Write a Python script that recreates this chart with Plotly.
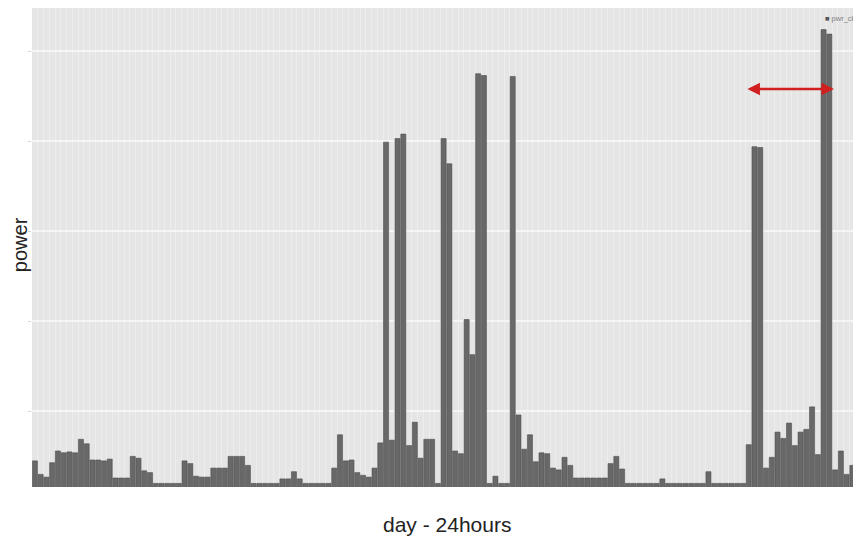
import plotly.graph_objects as go

# bar heights (power), one per hour slot
power = [45, 30, 27, 43, 56, 54, 55, 54, 69, 64,
         46, 46, 45, 47, 26, 26, 26, 50, 48, 34,
         32, 20, 20, 20, 20, 20, 45, 42, 28, 27,
         27, 37, 37, 37, 50, 50, 50, 40, 20, 20,
         20, 20, 20, 25, 25, 33, 25, 20, 20, 20,
         20, 20, 37, 74, 45, 46, 32, 29, 27, 37,
         65, 399, 68, 403, 408, 62, 88, 48, 69, 69,
         20, 403, 375, 56, 53, 202, 163, 475, 473, 20,
         28, 20, 20, 472, 96, 58, 74, 44, 54, 53,
         37, 35, 49, 40, 26, 26, 26, 26, 26, 26,
         42, 50, 36, 20, 20, 20, 20, 20, 20, 25,
         20, 20, 20, 20, 20, 20, 20, 33, 20, 20,
         20, 20, 20, 20, 63, 394, 393, 37, 49, 77,
         70, 87, 62, 77, 80, 105, 52, 524, 519, 35,
         56, 30, 40, 49]
slots = list(range(len(power)))
grid_vals = [100, 200, 300, 400, 500]
series_name = "pwr_ckt"

fig = go.Figure()
fig.add_trace(go.Bar(
    x=slots, y=power, name=series_name,
    marker=dict(color="#686868", line=dict(color="#4f4f4f", width=0.6)),
    showlegend=False,
))

fig.update_layout(
    width=853, height=530,
    margin=dict(l=24, r=0, t=0, b=51),
    paper_bgcolor="white",
    plot_bgcolor="#e5e5e5",
    bargap=0.12,
    font=dict(family="Liberation Sans, Arial, sans-serif", color="#222222"),
    xaxis=dict(
        range=[-0.5, len(power) - 0.5],
        showticklabels=False, ticks="",
        showgrid=True, tick0=0.5, dtick=1,
        gridcolor="#ededed", gridwidth=1,
        zeroline=False, showline=False,
    ),
    yaxis=dict(
        range=[16, 548],
        tickvals=grid_vals, showticklabels=False,
        ticks="outside", ticklen=3, tickcolor="#d6d6d6",
        showgrid=True, gridcolor="#f5f5f5", gridwidth=1.5,
        zeroline=False, showline=False,
    ),
    annotations=[
        dict(text="power", xref="paper", yref="paper", x=-0.0145, y=0.507,
             xanchor="center", yanchor="middle", textangle=-90,
             showarrow=False, font=dict(size=20, color="#222222")),
        dict(text="day - 24hours", xref="paper", yref="paper", x=0.5, y=-0.079,
             xanchor="center", yanchor="middle",
             showarrow=False, font=dict(size=21, color="#222222")),
        dict(text='<span style="color:#555555">■</span> ' + series_name,
             xref="paper", yref="paper", x=0.999, y=0.979,
             xanchor="right", yanchor="middle",
             showarrow=False, font=dict(size=7.5, color="#808080")),
        dict(x=138.8, y=458, xref="x", yref="y",
             ax=-88, ay=0, axref="pixel", ayref="pixel",
             text="", showarrow=True,
             arrowhead=2, startarrowhead=2, arrowside="end+start",
             arrowsize=1, startarrowsize=1, arrowwidth=2.5,
             arrowcolor="#d11f1f", standoff=0, startstandoff=0),
    ],
)

fig.write_html("out.html")
